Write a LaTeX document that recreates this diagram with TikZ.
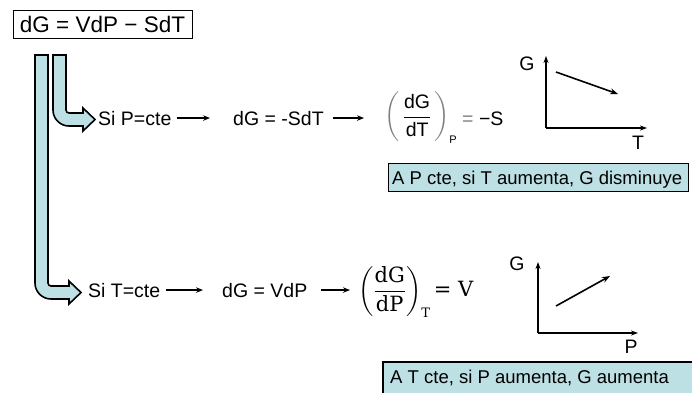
\documentclass[tikz,border=0pt]{standalone}
\usepackage[no-math]{fontspec}
\setmainfont{Liberation Sans}
\newfontfamily\cambriaish{DejaVu Serif}
\usepackage{amsmath}
\usetikzlibrary{arrows.meta}
\definecolor{lb}{RGB}{189,224,228}
\begin{document}
\begin{tikzpicture}[x=1pt,y=-1pt,
  txt/.style={inner sep=0pt, font=\fontsize{19.5}{23}\selectfont},
  boxtxt/.style={inner sep=0pt, font=\fontsize{18.5}{22}\selectfont},
  lnarrow/.style={line width=1.1pt,-{Stealth[length=7pt,width=5.5pt]}},
  axis/.style={line width=1.4pt,-{Stealth[length=7pt,width=5pt]}},
  trend/.style={line width=1.6pt,-{Stealth[length=8pt,width=6pt]}},
  blockarrow/.style={fill=lb, draw=black, line width=1.6pt, line join=miter},
  infobox/.style={fill=lb, draw=black, line width=1.2pt}]
\useasboundingbox (0,0) rectangle (692,392);

% top equation
\node[draw, line width=0.8pt, inner sep=0pt, minimum width=179pt, minimum height=28pt,
      font=\fontsize{22.5}{26}\selectfont] (top) at (102.5,24) {dG = VdP − SdT};

% block arrows
\path[blockarrow] (35,55) -- (35,283) .. controls (35,291.84) and (42.16,299) .. (51,299)
  -- (69,299) -- (69,304) -- (81,292.5) -- (69,281) -- (69,286) -- (51,286)
  .. controls (49.34,286) and (48,284.66) .. (48,283) -- (48,55) -- cycle;
\path[blockarrow] (53,55) -- (53,110) .. controls (53,118.84) and (60.16,126) .. (69,126)
  -- (83,126) -- (83,131) -- (95,119.5) -- (83,108) -- (83,113) -- (69,113)
  .. controls (67.34,113) and (66,111.66) .. (66,110) -- (66,55) -- cycle;

% row 1
\node[txt, anchor=base west] (sip) at (98,125) {Si P=cte};
\node[txt, anchor=base west] (eq1) at (233,125) {dG = -SdT};
\node[inner sep=0pt, anchor=west, font=\fontsize{19.5}{23}\selectfont] (der1) at (384,117)
  {$\displaystyle\color{gray}\left(\,\color{black}\frac{\text{dG}}{\text{dT}}\,\color{gray}\right)$};
\node[inner sep=0pt, font=\fontsize{11}{12}\selectfont] (sub1) at (453,140) {P};
\node[txt, anchor=base west] (res1) at (462,125) {\textcolor{gray}{=} −S};
\draw[lnarrow, shorten <=5pt, shorten >=23pt] (sip.east) -- (eq1.west);
\draw[lnarrow, shorten <=9pt, shorten >=20pt] (eq1.east) -- (der1.west |- eq1.east);

% graph 1
\coordinate (o1) at (546,128);
\coordinate (g1) at (546,56);
\coordinate (t1) at (647,128);
\draw[axis] (o1) -- (g1);
\draw[axis] (o1) -- (t1);
\node[txt] (G1) at (527,64) {G};
\node[txt] (T1) at (638,143) {T};
\coordinate (a1) at (556,72);
\coordinate (b1) at (618,94);
\draw[trend] (a1) -- (b1);

% box 1
\node[infobox, anchor=north west, minimum width=300pt, minimum height=28pt, inner sep=0pt] (box1) at (388,163) {};
\node[boxtxt, anchor=base west] (box1t) at (392,184) {A P cte, si T aumenta, G disminuye};

% row 2
\node[txt, anchor=base west] (sit) at (88,297) {Si T=cte};
\node[txt, anchor=base west] (eq2) at (222,297) {dG = VdP};
\node[inner sep=0pt, anchor=west, font=\fontsize{21}{25}\selectfont] (der2) at (358,292)
  {$\displaystyle\left(\frac{\text{\cambriaish dG}}{\text{\cambriaish dP}}\right)_{\text{\cambriaish\fontsize{13}{14}\selectfont T}}\text{\cambriaish = V}$};
\draw[lnarrow, shorten <=14pt, shorten >=8pt] (eq2.east) -- (der2.west |- eq2.east);
\draw[lnarrow, shorten <=6pt, shorten >=19pt] (sit.east) -- (eq2.west);

% graph 2
\coordinate (o2) at (538,333);
\coordinate (g2) at (538,262);
\coordinate (p2) at (638,333);
\draw[axis] (o2) -- (g2);
\draw[axis] (o2) -- (p2);
\node[txt] (G2) at (517,264) {G};
\node[txt] (P2) at (631,347) {P};
\coordinate (a2) at (556,306);
\coordinate (b2) at (610,276);
\draw[trend] (a2) -- (b2);

% box 2
\path[infobox] (383,362) rectangle (700,400);
\node[boxtxt, anchor=base west] (box2t) at (390,383) {A T cte, si P aumenta, G aumenta};
\end{tikzpicture}
\end{document}
